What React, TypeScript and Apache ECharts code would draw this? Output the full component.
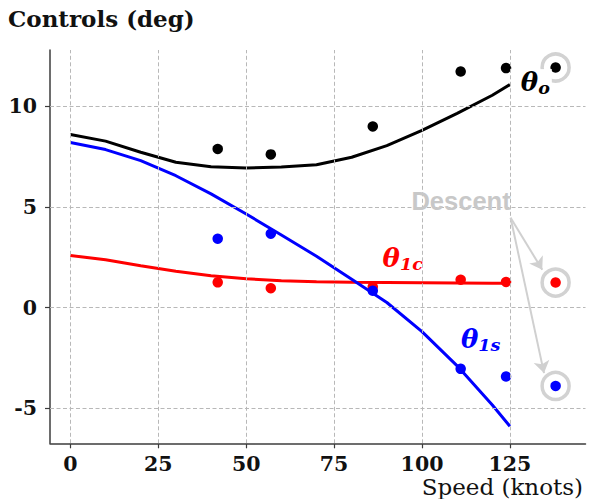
import React, { useEffect, useRef } from "react";
import * as echarts from "echarts";

// Model speeds (knots) and predicted controls (deg)
const speeds = [0, 10, 20, 30, 40, 50, 60, 70, 80, 90, 100, 110, 120, 125];
const thetaO = [8.6, 8.27, 7.72, 7.22, 7.0, 6.93, 6.98, 7.1, 7.47, 8.05, 8.8, 9.65, 10.55, 11.08];
const theta1c = [2.58, 2.37, 2.08, 1.8, 1.58, 1.43, 1.33, 1.28, 1.25, 1.24, 1.23, 1.22, 1.21, 1.2];
const theta1s = [8.2, 7.85, 7.3, 6.55, 5.65, 4.65, 3.6, 2.55, 1.4, 0.25, -1.2, -2.9, -4.85, -5.9];

// Flight test points
const testSpeeds = [41.9, 57.0, 86.0, 111.0, 123.9];
const testO = [7.88, 7.61, 9.0, 11.73, 11.9];
const test1c = [1.25, 0.96, 1.03, 1.38, 1.27];
const test1s = [3.42, 3.67, 0.83, -3.05, -3.43];

// Descent points
const descentSpeed = 138.0;
const descentO = 11.93;
const descent1c = 1.24;
const descent1s = -3.9;

const xTicks = [0, 25, 50, 75, 100, 125];
const yTicks = [-5, 0, 5, 10];

const SERIF = "DejaVu Serif";
const AXIS_COLOR = "#3c3c3c";

const pairs = (xs: number[], ys: number[]) => xs.map((x, i) => [x, ys[i]]);

export default function App() {
  const ref = useRef<HTMLDivElement>(null);

  useEffect(() => {
    const chart = echarts.init(ref.current!, null, { renderer: "svg" });

    const axisLabel = {
      fontFamily: SERIF,
      fontWeight: "bold" as const,
      fontSize: 20.5,
      color: "#111",
    };

    chart.setOption({
      animation: false,
      backgroundColor: "#fff",
      title: {
        text: "Controls (deg)",
        left: 3,
        top: 2,
        textStyle: { fontFamily: SERIF, fontWeight: "bold", fontSize: 23, color: "#111" },
      },
      grid: { left: 50, right: 4.5, top: 50, bottom: 55.7 },
      xAxis: {
        type: "value",
        min: -5.8,
        max: 146.5,
        axisLine: { show: true, onZero: false, lineStyle: { color: AXIS_COLOR, width: 1.5 } },
        axisTick: { show: true, customValues: xTicks, length: 5, lineStyle: { color: AXIS_COLOR, width: 1.2 } },
        axisLabel: { ...axisLabel, customValues: xTicks, margin: 10 },
        splitLine: { show: false },
      },
      yAxis: {
        type: "value",
        min: -6.75,
        max: 12.8,
        axisLine: { show: true, onZero: false, lineStyle: { color: AXIS_COLOR, width: 1.5 } },
        axisTick: { show: true, customValues: yTicks, length: 5, lineStyle: { color: AXIS_COLOR, width: 1.2 } },
        axisLabel: { ...axisLabel, customValues: yTicks, margin: 13 },
        splitLine: { show: false },
      },
      series: [
        {
          // dashed grid at the tick positions
          type: "line",
          data: [],
          z: 1,
          silent: true,
          markLine: {
            silent: true,
            symbol: "none",
            label: { show: false },
            lineStyle: { color: "#b8b8b8", width: 1, type: [4, 2.5] },
            data: [
              ...xTicks.map((v) => ({ xAxis: v })),
              ...yTicks.map((v) => ({ yAxis: v })),
            ],
          },
        },
        {
          name: "theta_o",
          type: "line",
          data: pairs(speeds, thetaO),
          showSymbol: false,
          lineStyle: { color: "#000", width: 3 },
          z: 3,
        },
        {
          name: "theta_1c",
          type: "line",
          data: pairs(speeds, theta1c),
          showSymbol: false,
          lineStyle: { color: "#ff0000", width: 3 },
          z: 3,
        },
        {
          name: "theta_1s",
          type: "line",
          data: pairs(speeds, theta1s),
          showSymbol: false,
          lineStyle: { color: "#0000ff", width: 3 },
          z: 3,
        },
        {
          type: "scatter",
          data: pairs(testSpeeds, testO),
          symbolSize: 10.5,
          itemStyle: { color: "#000", opacity: 1 },
          z: 4,
        },
        {
          type: "scatter",
          data: pairs(testSpeeds, test1c),
          symbolSize: 10.5,
          itemStyle: { color: "#ff0000", opacity: 1 },
          z: 4,
        },
        {
          type: "scatter",
          data: pairs(testSpeeds, test1s),
          symbolSize: 10.5,
          itemStyle: { color: "#0000ff", opacity: 1 },
          z: 4,
        },
        {
          // rings around the descent points
          type: "scatter",
          data: [
            [descentSpeed, descentO],
            [descentSpeed, descent1c],
            [descentSpeed, descent1s],
          ],
          symbolSize: 27,
          itemStyle: { color: "rgba(0,0,0,0)", borderColor: "#d2d2d2", borderWidth: 3.5, opacity: 1 },
          z: 4,
        },
        {
          type: "scatter",
          data: [
            { value: [descentSpeed, descentO], itemStyle: { color: "#000" } },
            { value: [descentSpeed, descent1c], itemStyle: { color: "#ff0000" } },
            { value: [descentSpeed, descent1s], itemStyle: { color: "#0000ff" } },
          ],
          symbolSize: 10.5,
          itemStyle: { opacity: 1 },
          z: 5,
        },
        {
          // arrows from the "Descent" note
          type: "line",
          data: [],
          z: 4,
          silent: true,
          markLine: {
            silent: true,
            symbol: ["none", "arrow"],
            symbolSize: 12,
            label: { show: false },
            lineStyle: { color: "#d0d0d0", width: 2, type: "solid" },
            data: [
              [{ coord: [125.2, 4.46] }, { coord: [134.2, 1.88] }],
              [{ coord: [125.2, 4.46] }, { coord: [134.7, -3.26] }],
            ],
          },
        },
      ],
    });

    const px = (p: number[]) => chart.convertToPixel({ gridIndex: 0 }, p) as number[];

    const thetaLabel = (at: number[], sub: string, color: string, bg?: string) => {
      const [x, y] = px(at);
      return {
        type: "text",
        x,
        y,
        z: 10,
        style: {
          text: `{t|θ}{s|${sub}}`,
          fill: color,
          backgroundColor: bg,
          padding: bg ? [0, 2, 2, 0] : 0,
          verticalAlign: "top",
          align: "left",
          rich: {
            t: {
              fontFamily: SERIF,
              fontStyle: "italic",
              fontWeight: "bold",
              fontSize: 26,
              fill: color,
              verticalAlign: "top",
            },
            s: {
              fontFamily: SERIF,
              fontStyle: "italic",
              fontWeight: "bold",
              fontSize: 17.5,
              fill: color,
              verticalAlign: "top",
              padding: [10, 0, 0, 0],
            },
          },
        },
      };
    };

    const [dx, dy] = px([97.0, 5.3]);
    chart.setOption({
      graphic: [
        thetaLabel([128.1, 11.85], "o", "#000", "#fff"),
        thetaLabel([88.8, 3.1], "1c", "#ff0000"),
        thetaLabel([111.1, -0.92], "1s", "#0000ff"),
        {
          type: "text",
          x: dx,
          y: dy,
          z: 10,
          style: {
            text: "Descent",
            fontFamily: "Liberation Sans",
            fontWeight: "bold",
            fontSize: 25.5,
            fill: "#c8c8c8",
            align: "left",
            verticalAlign: "middle",
          },
        },
        {
          type: "text",
          right: 7,
          bottom: 1,
          z: 10,
          style: {
            text: "Speed (knots)",
            fontFamily: SERIF,
            fontSize: 23,
            fill: "#111",
          },
        },
      ],
    });

    return () => chart.dispose();
  }, []);

  return (
    <div
      ref={ref}
      style={{ position: "fixed", left: 0, top: 0, width: 590, height: 499 }}
    />
  );
}
